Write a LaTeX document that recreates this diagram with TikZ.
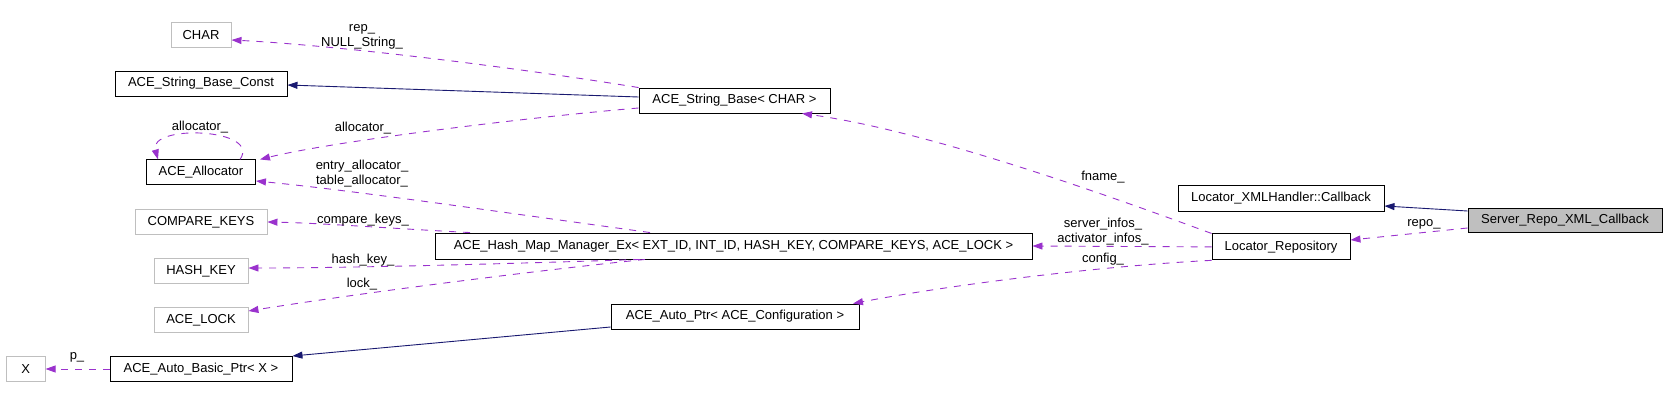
\documentclass[tikz,border=0pt]{standalone}
\usepackage{fontspec}
\setmainfont{Liberation Sans}
\usepackage{xcolor}
\usetikzlibrary{positioning, arrows.meta, calc}

\definecolor{usecolor}{HTML}{9A32CD}
\definecolor{inhcolor}{HTML}{191970}
\definecolor{greybox}{HTML}{BFBFBF}

\begin{document}
\begin{tikzpicture}[
    x=1pt, y=-1pt,
    node distance=23pt,
    font=\fontsize{13}{15}\selectfont,
    cls/.style={rectangle, draw=black, line width=0.9pt, minimum height=25pt, inner sep=2pt, align=center},
    extcls/.style={cls, draw=greybox},
    usage/.style={draw=usecolor, line width=0.9pt, dash pattern=on 7pt off 7pt, -{Triangle[length=10pt, width=7pt]}},
    inherit/.style={draw=inhcolor, line width=0.9pt, -{Triangle[length=10pt, width=7pt]}},
    lbl/.style={inner sep=0pt, align=center}
]
    \useasboundingbox (0,0) rectangle (1667,393);
    % Left column - members and base classes
    \node[cls, minimum width=172pt] (SBC) at (201,83.5) {ACE\_String\_Base\_Const};
    \node[extcls, minimum width=60pt, above=of SBC] (CHAR) {CHAR};
    \node[cls, minimum width=109pt, below=63pt of SBC] (Alloc) {ACE\_Allocator};
    \node[extcls, minimum width=132pt, below=24pt of Alloc] (CK) {COMPARE\_KEYS};
    \node[extcls, minimum width=94pt, below=of CK] (HK) {HASH\_KEY};
    \node[extcls, minimum width=94pt, below=of HK] (LOCK) {ACE\_LOCK};
    \node[cls, minimum width=182pt, below=of LOCK] (ABP) {ACE\_Auto\_Basic\_Ptr< X >};
    \node[extcls, minimum width=39pt, left=64pt of ABP] (X) {X};
    % Middle column - templates
    \node[cls, minimum width=191pt] (SB) at (734.5,100.5) {ACE\_String\_Base< CHAR >};
    \node[cls, minimum width=597pt, minimum height=26pt] (HMM) at (733.5,246) {ACE\_Hash\_Map\_Manager\_Ex< EXT\_ID, INT\_ID, HASH\_KEY, COMPARE\_KEYS, ACE\_LOCK >};
    \node[cls, minimum width=248pt] (AP) at (735,316.5) {ACE\_Auto\_Ptr< ACE\_Configuration >};
    % Right column
    \node[cls, minimum width=206pt, minimum height=26pt] (XCB) at (1281,198) {Locator\_XMLHandler::Callback};
    \node[cls, minimum width=138pt, minimum height=26pt, below=22pt of XCB] (Repo) {Locator\_Repository};
    \node[cls, fill=greybox, minimum width=194pt, minimum height=24pt] (SRV) at (1565,220) {Server\_Repo\_XML\_Callback};
    % Inheritance arrows
    \draw[inherit] (SB.west |- 0,97) -- (SBC.east |- 0,85);
    \draw[inherit] (AP.west |- 0,327) -- (ABP.east |- 0,356);
    \draw[inherit] (SRV.west |- 0,211) -- (XCB.east |- 0,206);
    % Usage arrows
    \draw[usage] (SB.north west) .. controls (500,65) and (330,45) .. (CHAR.east |- 0,40);
    \draw[usage] (SB.west |- 0,108) .. controls (520,118) and (330,142) .. ([xshift=4pt]Alloc.north east);
    \draw[usage] (Alloc.north -| 240,0) .. controls (262,128) and (148,124) .. (Alloc.north -| 158,0);
    \draw[usage] (HMM.north -| 650,0) .. controls (500,212) and (350,190) .. (Alloc.east |- 0,181);
    \draw[usage] (HMM.north -| 470,0) .. controls (400,229) and (320,223) .. (CK.east |- 0,222);
    \draw[usage] (HMM.south -| 640,0) .. controls (500,264) and (350,268) .. (HK.east |- 0,268);
    \draw[usage] (HMM.south -| 645,0) .. controls (560,268) and (380,290) .. (LOCK.east |- 0,311);
    \draw[usage] (ABP.west) -- (X.east);
    \draw[usage] (Repo.north west) .. controls (1080,185) and (920,130) .. (SB.south -| 802,0);
    \draw[usage] (Repo.west) -- (HMM.east);
    \draw[usage] (Repo.south west) .. controls (1100,266) and (950,285) .. (AP.north -| 853,0);
    \draw[usage] (SRV.west |- 0,228) -- (Repo.east |- 0,240);
    % Edge labels
    \node[lbl] (l_rep) at (362,36.5) {rep\_\\NULL\_String\_};
    \node[lbl] (l_self) at (200,127) {allocator\_};
    \node[lbl] (l_alloc) at (363,128) {allocator\_};
    \node[lbl] (l_entry) at (362,173.5) {entry\_allocator\_\\table\_allocator\_};
    \node[lbl] (l_ck) at (363,220) {compare\_keys\_};
    \node[lbl] (l_hk) at (363,260) {hash\_key\_};
    \node[lbl] (l_lock) at (362,284) {lock\_};
    \node[lbl] (l_p) at (77,357) {p\_};
    \node[lbl] (l_fname) at (1103,177) {fname\_};
    \node[lbl] (l_infos) at (1103,231.5) {server\_infos\_\\activator\_infos\_};
    \node[lbl] (l_config) at (1103,259) {config\_};
    \node[lbl] (l_repo) at (1424,224) {repo\_};
\end{tikzpicture}
\end{document}
